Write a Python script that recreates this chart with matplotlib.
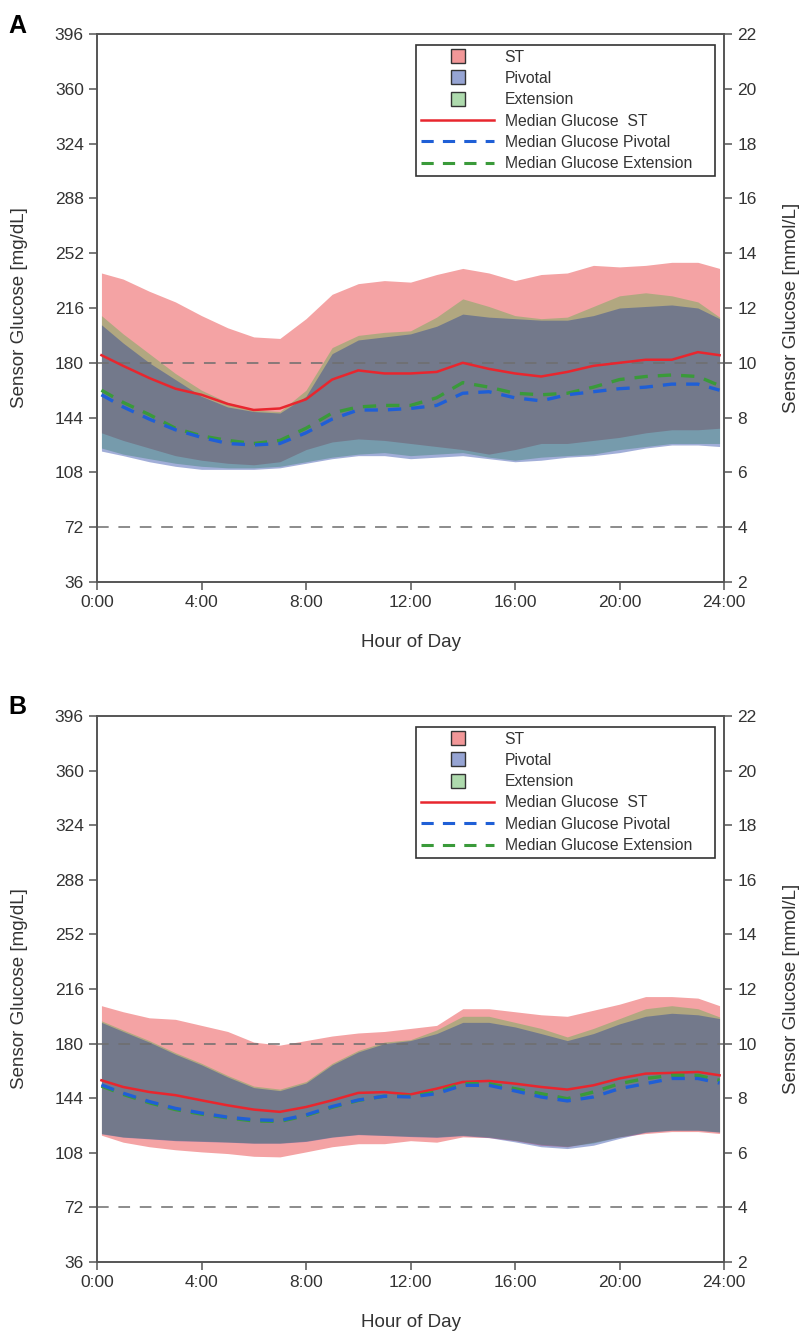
import matplotlib
matplotlib.use('Agg')
import matplotlib.pyplot as plt
from matplotlib.lines import Line2D
from matplotlib.colors import to_rgba

plt.rcParams['font.family'] = ['Liberation Sans', 'DejaVu Sans']

# hour of day for each sample
hours = [0.17, 1, 2, 3, 4, 5, 6, 7, 8, 9, 10, 11, 12,
         13, 14, 15, 16, 17, 18, 19, 20, 21, 22, 23, 23.83]

# ---- panel A ----
aStUpper = [239, 235, 227, 220, 211, 203, 197, 196, 209, 225, 232, 234, 233,
            238, 242, 239, 234, 238, 239, 244, 243, 244, 246, 246, 242]
aStLower = [134, 129, 124, 119, 116, 114, 113, 115, 123, 128, 130, 129, 127,
            125, 123, 120, 123, 127, 127, 129, 131, 134, 136, 136, 137]
aExtUpper = [211, 199, 186, 173, 162, 154, 149, 148, 162, 190, 198, 200, 201,
             210, 222, 217, 211, 209, 210, 217, 224, 226, 224, 220, 210]
aExtLower = [124, 120, 117, 114, 112, 111, 111, 112, 115, 118, 120, 121, 119,
             120, 121, 118, 116, 118, 119, 120, 123, 125, 127, 127, 127]
aPivUpper = [205, 193, 180, 169, 158, 151, 148, 147, 158, 186, 195, 197, 199,
             204, 212, 210, 209, 208, 208, 211, 216, 217, 218, 216, 209]
aPivLower = [122, 119, 115, 112, 110, 110, 110, 111, 114, 117, 119, 119, 117,
             118, 119, 117, 115, 116, 118, 119, 121, 124, 126, 126, 125]
aStMedian = [185, 178, 170, 163, 159, 153, 149, 150, 156, 169, 175, 173, 173,
             174, 180, 176, 173, 171, 174, 178, 180, 182, 182, 187, 185]
aExtMedian = [162, 154, 146, 137, 132, 129, 127, 129, 137, 147, 151, 152, 152,
              157, 167, 164, 160, 159, 160, 164, 169, 171, 172, 171, 165]
aPivMedian = [159, 151, 143, 136, 131, 127, 126, 127, 134, 143, 149, 149, 150,
              152, 160, 161, 157, 155, 159, 161, 163, 164, 166, 166, 162]

# ---- panel B ----
bStUpper = [205, 201, 197, 196, 192, 188, 181, 179, 182, 185, 187, 188, 190,
            192, 203, 203, 201, 199, 198, 202, 206, 211, 211, 210, 205]
bStLower = [119.6, 115, 112, 110, 108.6, 107.5, 105.7, 105.3, 108.6, 112, 114, 114, 116,
            115, 118.5, 118, 116, 113, 112, 115, 118.5, 120.7, 122, 122, 120.7]
bExtUpper = [195, 189, 182, 174, 167, 159, 152, 150, 155, 167, 175.5, 181, 182.6,
             189, 198, 198, 194, 190, 184.4, 190, 196.5, 203, 205, 203, 197.6]
bExtLower = [120.7, 118.5, 117.4, 116.3, 115.8, 115.2, 114.5, 114.5, 115.8, 118.5, 120.2, 119.6, 119,
             118.5, 119.6, 118.5, 116.3, 113.6, 112.3, 114.5, 118.5, 121.8, 123, 123, 121.8]
bPivUpper = [194, 188, 181, 173, 166, 158, 151, 149, 154, 166, 174.5, 180, 182,
             186.6, 194, 194, 191, 186.6, 182, 186.6, 193, 198, 200, 199, 196.5]
bPivLower = [120.5, 118.3, 117.2, 116, 115.5, 115, 114.3, 114.3, 115.5, 118.3, 120, 119.4, 118.7,
             118.2, 119.3, 118, 115.2, 112, 110.8, 113, 117.5, 121.5, 122.8, 122.8, 121.6]
bStMedian = [155.8, 151.4, 148.1, 146, 142.6, 139.3, 136.5, 135, 138.2, 142.6, 147.5, 148, 146.5,
             150.3, 154.7, 155.4, 153.6, 151.4, 149.7, 152.5, 157, 160.2, 160.7, 161.3, 159.1]
bExtMedian = [152, 146.5, 141, 136.5, 133.5, 131, 129, 128.7, 132.5, 138, 142.5, 145.3, 145.3,
              148.1, 153.6, 153.6, 150.3, 147, 143.7, 148.1, 153.6, 157, 159.1, 159.1, 155.8]
bPivMedian = [152.8, 147.3, 141.8, 137.3, 134.2, 131.5, 129.8, 129.3, 133, 138.5, 142.8, 145.3, 144.8,
              147, 152.5, 152.5, 148.8, 144.8, 142.2, 144.8, 150.3, 153.6, 157, 157, 154]

hourTicks = [0, 4, 8, 12, 16, 20, 24]
hourLabels = ['0:00', '4:00', '8:00', '12:00', '16:00', '20:00', '24:00']
mgTicks = [36, 72, 108, 144, 180, 216, 252, 288, 324, 360, 396]
mmolTicks = [2, 4, 6, 8, 10, 12, 14, 16, 18, 20, 22]
thresholds = [180, 72]

stColor = '#e41a1c'
extColor = '#4daf4a'
pivColor = '#16359e'
textColor = '#333333'
spineColor = '#555555'


def styleAxis(ax):
    for s in ax.spines.values():
        s.set_color(spineColor)
        s.set_linewidth(1.2)
    ax.tick_params(direction='out', length=5.5, width=1.1, color=spineColor,
                   labelsize=12.5, labelcolor=textColor, pad=4)


def squareHandle(color):
    return Line2D([], [], linestyle='none', marker='s', markersize=9.5,
                  markerfacecolor=to_rgba(color, 0.45),
                  markeredgecolor='#333333', markeredgewidth=1.0)


def plotPanel(ax, stUp, stLo, extUp, extLo, pivUp, pivLo, stMed, extMed, pivMed):
    ax.fill_between(hours, stLo, stUp, color=stColor, alpha=0.4, linewidth=0)
    ax.fill_between(hours, extLo, extUp, color=extColor, alpha=0.4, linewidth=0)
    ax.fill_between(hours, pivLo, pivUp, color=pivColor, alpha=0.4, linewidth=0)
    for t in thresholds:
        ax.axhline(t, color='#6e6e6e', linewidth=1.4, dashes=(6, 5), alpha=0.8)
    ax.plot(hours, stMed, color='#e8262e', linewidth=1.8)
    ax.plot(hours, extMed, color='#3a9a3a', linewidth=2.4, dashes=(4, 3))
    ax.plot(hours, pivMed, color='#1f5fd6', linewidth=2.4, dashes=(4, 3))

    ax.set_xlim(0, 24)
    ax.set_ylim(36, 396)
    ax.set_xticks(hourTicks)
    ax.set_xticklabels(hourLabels)
    ax.set_yticks(mgTicks)
    ax.set_xlabel('Hour of Day', fontsize=13.5, color=textColor, labelpad=17)
    ax.set_ylabel('Sensor Glucose [mg/dL]', fontsize=13.5, color=textColor, labelpad=19)
    styleAxis(ax)

    ax2 = ax.twinx()
    ax2.set_ylim(2, 22)
    ax2.set_yticks(mmolTicks)
    ax2.set_ylabel('Sensor Glucose [mmol/L]', fontsize=13.5, color=textColor, labelpad=19)
    styleAxis(ax2)

    handles = [
        squareHandle(stColor),
        squareHandle(pivColor),
        squareHandle(extColor),
        Line2D([], [], color='#e8262e', linewidth=1.8),
        Line2D([], [], color='#1f5fd6', linewidth=2.2, dashes=(4, 3)),
        Line2D([], [], color='#3a9a3a', linewidth=2.2, dashes=(4, 3)),
    ]
    labels = ['ST', 'Pivotal', 'Extension', 'Median Glucose  ST',
              'Median Glucose Pivotal', 'Median Glucose Extension']
    # legend box spans a fixed width, extra room goes to the right of the text
    leg = ax2.legend(handles, labels, loc='upper right', fontsize=11.3, handlelength=4.7,
                     labelspacing=0.4, borderaxespad=0, fancybox=False, framealpha=1,
                     edgecolor='#333333', handletextpad=0.65, borderpad=0.3,
                     mode='expand', bbox_to_anchor=(0.5088, 0.5, 0.4768, 0.48))
    leg.get_frame().set_linewidth(1.2)
    for txt in leg.get_texts():
        txt.set_color(textColor)
    return ax2


fig = plt.figure(figsize=(8.05, 13.34), dpi=100)
axA = fig.add_axes([97 / 805, 1 - 582 / 1334, 627 / 805, 548 / 1334])
axB = fig.add_axes([97 / 805, 1 - 1262 / 1334, 627 / 805, 546 / 1334])

plotPanel(axA, aStUpper, aStLower, aExtUpper, aExtLower, aPivUpper, aPivLower,
          aStMedian, aExtMedian, aPivMedian)
plotPanel(axB, bStUpper, bStLower, bExtUpper, bExtLower, bPivUpper, bPivLower,
          bStMedian, bExtMedian, bPivMedian)

fig.text(8 / 805, 1 - 33 / 1334, 'A', fontsize=18, fontweight='bold', ha='left', va='baseline')
fig.text(8 / 805, 1 - 714 / 1334, 'B', fontsize=18, fontweight='bold', ha='left', va='baseline')

fig.savefig('out.png', dpi=100)
